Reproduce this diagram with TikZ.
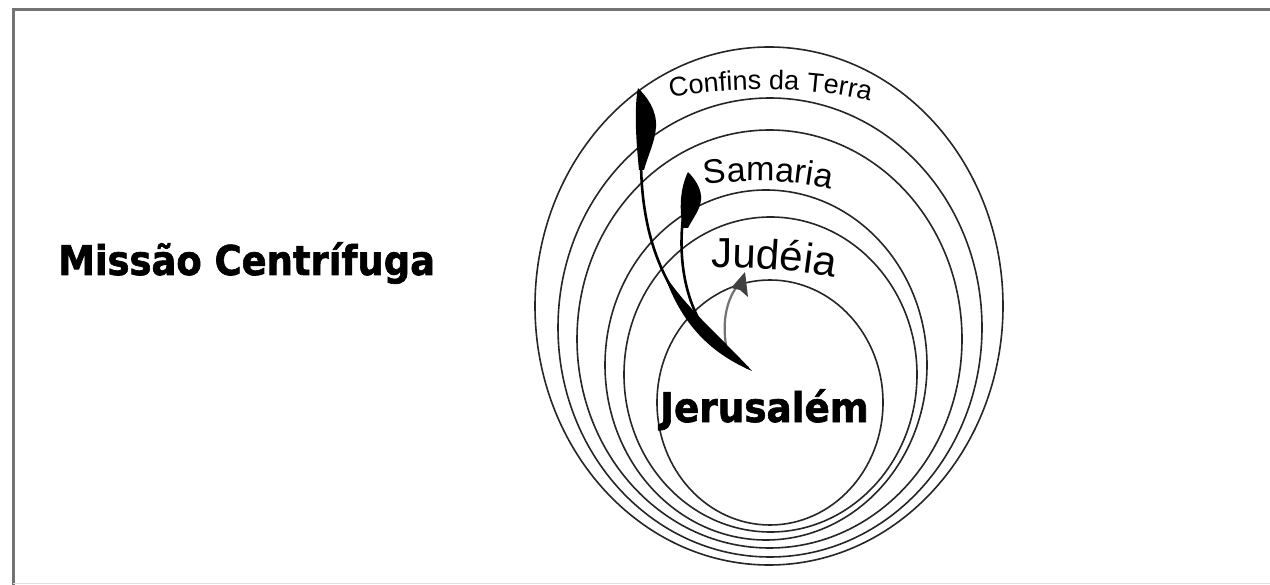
\documentclass[tikz,border=0pt]{standalone}
\usepackage{fontspec}
\setmainfont{Liberation Sans}
\newfontfamily\labfont{Liberation Sans}
\newfontfamily\heavyfont{DejaVu Sans}[BoldFeatures={FakeBold=1.6}]
\usetikzlibrary{decorations.text}
\begin{document}
\begin{tikzpicture}[x=1pt,y=-1pt,
  ring/.style={draw=black!85, line width=1.6pt},
  frameline/.style={draw=black!55, line width=3pt},
  brush/.style={fill=black, draw=none},
  shaft/.style={draw=black, line width=2.6pt, line cap=round},
  heavy/.style={inner sep=0pt, anchor=base west, font=\heavyfont\bfseries\fontsize{41}{41}\selectfont},
  curvetext/.style={decorate, decoration={text along path, text align=center, text={#1}}}
]
\useasboundingbox (0,0) rectangle (1270,585);
\fill[white] (0,0) rectangle (1270,585);
% frame
\draw[frameline] (13,585) -- (13,10) -- (1270,10);
\draw[draw=black!12, line width=1.5pt] (13,583.5) -- (1270,583.5);

% nested rings
\draw[ring] (769,306)   ellipse [x radius=234,   y radius=259];
\draw[ring] (770,327.5) ellipse [x radius=212,   y radius=229.5];
\draw[ring] (769.5,339) ellipse [x radius=192.5, y radius=209];
\draw[ring] (766,365)   ellipse [x radius=161,   y radius=175];
\draw[ring] (770.5,374.5) ellipse [x radius=146.5, y radius=157.5];
\draw[ring] (770,402.5) ellipse [x radius=113,   y radius=122.5];

% curved labels
\path[curvetext={|\labfont\fontsize{27}{27}\selectfont|Confins da Terra}]
  (655,101) .. controls (715,85) and (825,85) .. (885,106);
\path[curvetext={|\labfont\fontsize{34}{34}\selectfont|Samaria}]
  (680,190) .. controls (730,177) and (800,177) .. (855,196);
\path[curvetext={|\labfont\fontsize{42}{42}\selectfont|Judéia}]
  (690,268) .. controls (740,266) and (805,269) .. (855,282);

% named labels
\node[heavy] (titulo) at (58,275) {\scalebox{0.9}[1]{Missão Centrífuga}};
\node[heavy] (jeru) at (660,422) {\scalebox{0.91}[1]{Jerusalém}};

% arrow anchor points
\coordinate (tail) at (748,368);
\coordinate (tipT) at (638,88);
\coordinate (tipS) at (688,172);
\coordinate (tipJ) at (745,272);

% Judeia arrow (grey)
\draw[draw=black!55, line width=2.2pt, line cap=round]
  (726,345) .. controls (722,320) and (727,298) .. (739,284);
\fill[black!75] (tipJ) -- (748,297) -- (740,290) -- (731,288) -- cycle;

% Samaria arrow
\draw[shaft] (735,360) .. controls (690,330) and (675,270) .. (684,210);
\fill[brush] (tipS) .. controls (696,180) and (702,190) .. (701,200)
  .. controls (700,210) and (693,218) .. (688,228) -- (683,228)
  .. controls (679,210) and (680,188) .. cycle;

% Confins da Terra arrow
\draw[shaft] (tail) .. controls (680,320) and (640,260) .. (641,155);
\fill[brush] (752,371) .. controls (721,337) and (689,311) .. (664,274)
  .. controls (680,320) and (706,351.1) .. cycle;
\fill[brush] (tipT) .. controls (647,97) and (657,110) .. (656,127)
  .. controls (655,142) and (648,155) .. (644,170) -- (639,170)
  .. controls (636,140) and (634,108) .. cycle;
\end{tikzpicture}
\end{document}
